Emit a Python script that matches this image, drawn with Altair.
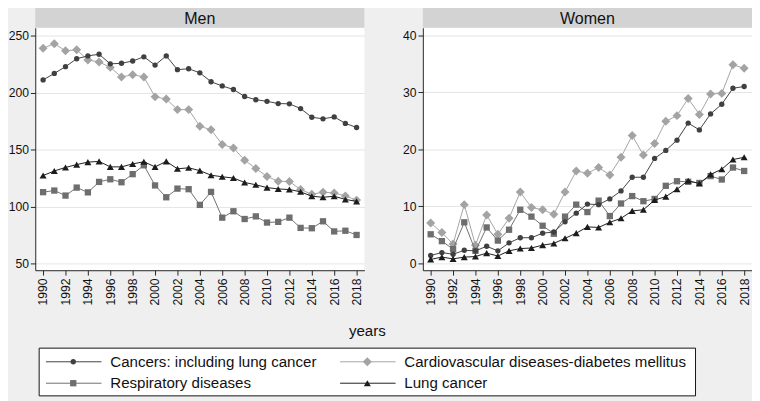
import altair as alt
import pandas as pd

years = list(range(1990, 2019))
series_names = [
    "Cancers: including lung cancer",
    "Cardiovascular diseases-diabetes mellitus",
    "Respiratory diseases",
    "Lung cancer",
]

# Men
cancers_m = [211.2, 216.9, 222.8, 229.8, 232.3, 233.7, 225.3, 225.8, 227.8, 231.5, 224.2, 232.3, 220.2, 221.0,
             217.4, 209.6, 205.9, 202.8, 196.6, 193.8, 192.4, 190.4, 190.2, 186.0, 178.4, 177.0, 178.7, 173.0, 169.4]
cvd_m = [239.0, 243.0, 236.8, 237.6, 228.7, 227.0, 222.2, 213.8, 215.7, 213.8, 196.3, 194.4, 185.1, 185.1,
         170.5, 167.4, 154.5, 151.4, 140.7, 133.4, 126.4, 122.2, 121.9, 114.9, 110.7, 112.6, 111.8, 109.3, 105.6]
resp_m = [112.6, 114.0, 109.6, 116.6, 112.4, 121.6, 123.9, 121.3, 128.4, 136.2, 118.5, 108.1, 115.7, 115.2,
          101.4, 112.8, 90.2, 95.8, 89.0, 91.3, 85.9, 86.5, 90.2, 81.2, 80.9, 87.0, 78.1, 78.7, 75.0]
lung_m = [127.2, 131.2, 134.3, 136.8, 139.0, 139.6, 134.8, 134.8, 137.4, 139.3, 134.8, 139.6, 133.1, 134.0,
          131.5, 127.5, 126.1, 125.0, 121.1, 119.1, 116.6, 115.4, 114.9, 112.9, 109.0, 108.1, 109.0, 106.2, 104.5]

# Women
cancers_w = [1.4, 1.9, 1.6, 2.3, 2.2, 3.0, 2.2, 3.6, 4.5, 4.5, 5.3, 5.5, 7.3, 8.8, 10.4, 10.3, 11.3, 12.7,
             15.1, 15.1, 18.4, 19.8, 21.6, 24.6, 23.4, 26.2, 27.9, 30.7, 31.0]
cvd_w = [7.1, 5.4, 3.4, 10.3, 3.2, 8.5, 5.1, 7.9, 12.5, 9.8, 9.4, 8.6, 12.5, 16.2, 15.8, 16.8, 15.5, 18.6,
         22.4, 19.0, 21.0, 24.9, 25.9, 28.9, 26.1, 29.7, 29.8, 34.8, 34.2]
resp_w = [5.1, 3.9, 2.5, 7.2, 2.2, 6.3, 4.0, 5.9, 9.4, 8.2, 6.6, 5.2, 8.2, 10.3, 9.0, 11.0, 8.3, 10.5,
          11.8, 10.9, 11.3, 13.6, 14.4, 14.3, 14.1, 15.3, 14.7, 16.8, 16.2]
lung_w = [0.7, 1.1, 0.8, 1.1, 1.2, 1.8, 1.3, 2.2, 2.6, 2.7, 3.2, 3.5, 4.4, 5.3, 6.4, 6.3, 7.2, 7.9,
          9.2, 9.4, 11.1, 11.7, 13.0, 14.5, 14.0, 15.6, 16.5, 18.2, 18.6]

men_ticks = [50, 100, 150, 200, 250]
women_ticks = [0, 10, 20, 30, 40]
year_ticks = list(range(1990, 2019, 2))

colors = ["#404040", "#a3a3a3", "#6e6e6e", "#1c1c1c"]
shapes = ["circle", "diamond", "square", "triangle-up"]
sizes = [30, 85, 42, 52]
draw_order = [1, 2, 0, 3]

FONT = "Liberation Sans"
W, H = 338, 249


def long_df(vals):
    rows = []
    for k in range(4):
        for yr, v in zip(years, vals[k]):
            rows.append({"year": yr, "value": v, "series": series_names[k]})
    return pd.DataFrame(rows)


df_m = long_df([cancers_m, cvd_m, resp_m, lung_m])
df_w = long_df([cancers_w, cvd_w, resp_w, lung_w])


def series_layers(base, x, y):
    layers = []
    for k in draw_order:
        sub = base.transform_filter(alt.datum.series == series_names[k])
        layers.append(sub.mark_line(strokeWidth=1, color=colors[k]).encode(x=x, y=y, order="year:Q"))
        layers.append(sub.mark_point(filled=True, opacity=1, shape=shapes[k], size=sizes[k],
                                     color=colors[k]).encode(x=x, y=y))
    return layers


def panel(df, name, ydom, yticks):
    x = alt.X("year:Q",
              scale=alt.Scale(domain=[1989.3, 2018.7], nice=False, zero=False),
              axis=alt.Axis(values=year_ticks, format="d", labelAngle=-90, title=None,
                            grid=False, labelFontSize=12.5, labelPadding=3))
    y = alt.Y("value:Q",
              scale=alt.Scale(domain=ydom, nice=False, zero=False),
              axis=alt.Axis(values=yticks, title=None, grid=True, gridColor="#e4e4e4",
                            labelFontSize=12.5, labelPadding=2))
    base = alt.Chart(df)
    hdf = pd.DataFrame({"panel": [name]})
    hdr = alt.Chart(hdf).mark_rect(color="#d3d3d3").encode(
        x=alt.value(0), x2=alt.value(W), y=alt.value(-21), y2=alt.value(0))
    txt = alt.Chart(hdf).mark_text(fontSize=16.5, font=FONT, color="#111111", baseline="alphabetic").encode(
        x=alt.value(W / 2), y=alt.value(-4), text="panel:N")
    return alt.layer(hdr, txt, *series_layers(base, x, y)).properties(
        width=W, height=H, view=alt.ViewBackground(fill="white", stroke=None))


men = panel(df_m, "Men", [44, 257], men_ticks)
women = panel(df_w, "Women", [-1.2, 41.3], women_ticks)

top = alt.hconcat(men, women, spacing=39).resolve_scale(y="independent", x="independent")

# custom legend (line + marker symbols, as in the original); x measured from the left plot edge
LW, LH = 700, 94
leg_df = pd.DataFrame({
    "series": series_names,
    "col": [0, 1, 0, 1],
    "row": [0, 0, 1, 1],
})
leg_df["x0"] = 11 + 302 * leg_df["col"]
leg_df["x1"] = leg_df["x0"] + 57
leg_df["xm"] = leg_df["x0"] + 28
leg_df["xt"] = leg_df["x0"] + 66
leg_df["yy"] = 58 + 22 * leg_df["row"]

px = alt.Scale(domain=[0, LW], range=[0, LW])
py = alt.Scale(domain=[0, LH], range=[0, LH])

box_df = pd.DataFrame({"a": [4], "b": [678], "c": [44], "d": [93], "t": ["years"], "tx": [341], "ty": [27]})
box = alt.Chart(box_df).mark_rect(fill="white", stroke="#111111", strokeWidth=1).encode(
    x=alt.X("a:Q", scale=px, axis=None), x2="b:Q",
    y=alt.Y("c:Q", scale=py, axis=None), y2="d:Q")
ytitle = alt.Chart(box_df).mark_text(fontSize=15.5, font=FONT, color="#111111").encode(
    x=alt.X("tx:Q", scale=px, axis=None), y=alt.Y("ty:Q", scale=py, axis=None), text="t:N")

leg_layers = [box, ytitle]
for k in range(4):
    sub = alt.Chart(leg_df).transform_filter(alt.datum.series == series_names[k])
    leg_layers.append(sub.mark_rule(strokeWidth=1, color=colors[k]).encode(
        x=alt.X("x0:Q", scale=px, axis=None), x2="x1:Q",
        y=alt.Y("yy:Q", scale=py, axis=None)))
    leg_layers.append(sub.mark_point(filled=True, opacity=1, shape=shapes[k], size=sizes[k],
                                     color=colors[k]).encode(
        x=alt.X("xm:Q", scale=px, axis=None),
        y=alt.Y("yy:Q", scale=py, axis=None)))
ltxt = alt.Chart(leg_df).mark_text(fontSize=15.5, font=FONT, align="left", color="#111111").encode(
    x=alt.X("xt:Q", scale=px, axis=None),
    y=alt.Y("yy:Q", scale=py, axis=None),
    text="series:N")
leg_layers.append(ltxt)
legend = alt.layer(*leg_layers).properties(
    width=LW, height=LH, view=alt.ViewBackground(fill=None, stroke=None))

chart = alt.vconcat(top, legend, spacing=0).properties(
    padding={"top": -6, "left": 0, "right": 0, "bottom": 0}, background="#efefef"
).configure_view(stroke=None, fill=None).configure_axis(
    labelFont=FONT, labelColor="#111111", domainColor="#222222", tickColor="#222222",
    tickSize=5, domainWidth=1, tickWidth=1
).configure_concat(spacing=0)

chart.save("out.html", embed_options={"renderer": "svg", "actions": False})
